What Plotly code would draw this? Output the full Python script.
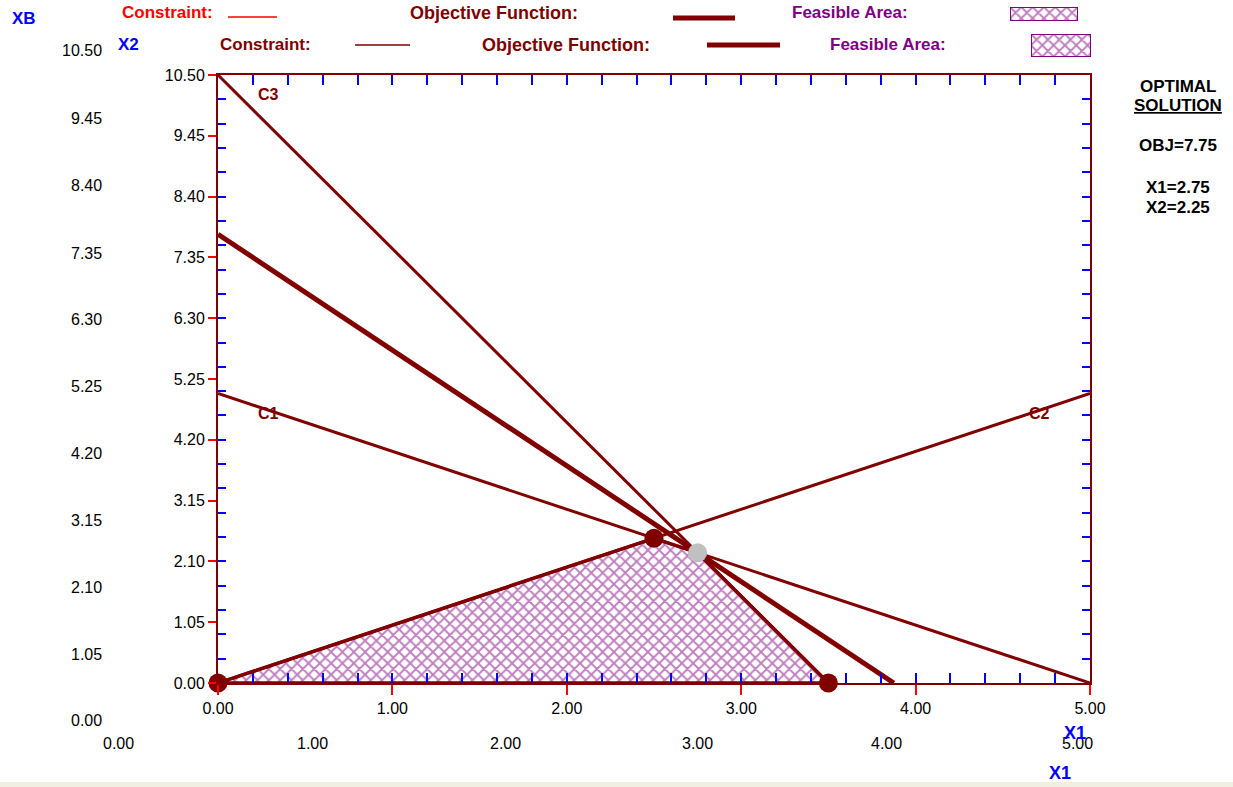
import plotly.graph_objects as go

W, H = 1233, 787
MAROON = "#800000"
PURPLE = "#800080"
BLUE = "#0000FF"

# ---- data ----
c1_x = [0.0, 5.0]; c1_y = [5.0, 0.0]          # C1: X1 + X2 <= 5
c2_x = [0.0, 5.0]; c2_y = [0.0, 5.0]          # C2: -X1 + X2 <= 0
c3_x = [0.0, 3.5]; c3_y = [10.5, 0.0]         # C3: 3X1 + X2 <= 10.5
obj_x = [0.0, 3.875]; obj_y = [7.75, 0.0]     # 2X1 + X2 = 7.75
feas_x = [0.0, 2.5, 2.75, 3.5, 0.0]
feas_y = [0.0, 2.5, 2.25, 0.0, 0.0]
corner_x = [0.0, 2.5, 3.5]
corner_y = [0.0, 2.5, 0.0]
opt_x = [2.75]; opt_y = [2.25]
x_ticks = [0.0, 1.0, 2.0, 3.0, 4.0, 5.0]
y_ticks = [0.00, 1.05, 2.10, 3.15, 4.20, 5.25, 6.30, 7.35, 8.40, 9.45, 10.50]
x_labels = [f"{v:.2f}" for v in x_ticks]
y_labels = [f"{v:.2f}" for v in y_ticks]
ghost_y_labels = ["10.50", "9.45", "8.40", "7.35", "6.30", "5.25", "4.20", "3.15", "2.10", "1.05", "0.00"]
ghost_x_labels = ["0.00", "1.00", "2.00", "3.00", "4.00", "5.00"]

def P(x):
    return x / W

def Q(y):
    return 1 - y / H

XD = [P(218), P(1090)]
YD = [Q(683), Q(75)]

fig = go.Figure()

hatch = dict(shape="x", fgcolor=PURPLE, bgcolor="white", size=8, solidity=0.42)

fig.add_trace(go.Scatter(x=feas_x, y=feas_y, mode="lines", fill="toself",
                         fillcolor="white", fillpattern=hatch,
                         line=dict(color=MAROON, width=3.5), hoverinfo="skip"))
for xs, ys in [(c1_x, c1_y), (c2_x, c2_y), (c3_x, c3_y)]:
    fig.add_trace(go.Scatter(x=xs, y=ys, mode="lines", line=dict(color=MAROON, width=3),
                             hoverinfo="skip"))
fig.add_trace(go.Scatter(x=obj_x, y=obj_y, mode="lines", line=dict(color=MAROON, width=5),
                         hoverinfo="skip"))
fig.add_trace(go.Scatter(x=corner_x, y=corner_y, mode="markers", cliponaxis=False,
                         marker=dict(color=MAROON, size=19), hoverinfo="skip"))
fig.add_trace(go.Scatter(x=opt_x, y=opt_y, mode="markers", cliponaxis=False,
                         marker=dict(color="#C0C0C0", size=19), hoverinfo="skip"))

# invisible traces for the minor-tick axes
fig.add_trace(go.Scatter(x=[0], y=[0], xaxis="x2", yaxis="y2", mode="markers",
                         marker=dict(opacity=0), hoverinfo="skip"))
fig.add_trace(go.Scatter(x=[0], y=[0], xaxis="x3", yaxis="y3", mode="markers",
                         marker=dict(opacity=0), hoverinfo="skip"))

# legend swatches (hatched boxes)
box_x = [0, 1, 1, 0, 0]
box_y = [0, 0, 1, 1, 0]
for xa, ya in [("x4", "y4"), ("x5", "y5")]:
    fig.add_trace(go.Scatter(x=box_x, y=box_y, xaxis=xa, yaxis=ya, mode="lines", fill="toself",
                             fillcolor="white", fillpattern=hatch, cliponaxis=False,
                             line=dict(color=PURPLE, width=2), hoverinfo="skip"))

tickfont = dict(family="Liberation Sans, Arial, sans-serif", size=16, color="black")
noauto = dict(automargin=False)
fig.update_layout(
    width=W, height=H, autosize=False,
    margin=dict(l=0, r=0, t=0, b=0, autoexpand=False),
    paper_bgcolor="white", plot_bgcolor="white",
    showlegend=False,
    xaxis=dict(domain=XD, range=[0, 5], tickmode="array", tickvals=x_ticks, ticktext=x_labels,
               ticks="outside", tickcolor="red", ticklen=10, tickwidth=2,
               showline=True, linecolor=MAROON, linewidth=2, mirror=True,
               showgrid=False, zeroline=False, tickfont=tickfont, anchor="y", **noauto),
    yaxis=dict(domain=YD, range=[0, 10.5], tickmode="array", tickvals=y_ticks, ticktext=y_labels,
               ticks="outside", tickcolor="red", ticklen=8, tickwidth=2,
               showline=True, linecolor=MAROON, linewidth=2, mirror=True,
               showgrid=False, zeroline=False, tickfont=tickfont, anchor="x", **noauto),
    xaxis2=dict(overlaying="x", anchor="y2", side="bottom", range=[0, 5], tickmode="linear",
                tick0=0, dtick=0.2, ticks="inside", tickcolor=BLUE, ticklen=10, tickwidth=2,
                showticklabels=False, showline=False, showgrid=False, zeroline=False, **noauto),
    yaxis2=dict(overlaying="y", anchor="x2", side="left", range=[0, 10.5], tickmode="linear",
                tick0=0, dtick=0.42, ticks="inside", tickcolor=BLUE, ticklen=8, tickwidth=2,
                showticklabels=False, showline=False, showgrid=False, zeroline=False, **noauto),
    xaxis3=dict(overlaying="x", anchor="y3", side="top", range=[0, 5], tickmode="linear",
                tick0=0, dtick=0.2, ticks="inside", tickcolor=BLUE, ticklen=10, tickwidth=2,
                showticklabels=False, showline=False, showgrid=False, zeroline=False, **noauto),
    yaxis3=dict(overlaying="y", anchor="x3", side="right", range=[0, 10.5], tickmode="linear",
                tick0=0, dtick=0.42, ticks="inside", tickcolor=BLUE, ticklen=8, tickwidth=2,
                showticklabels=False, showline=False, showgrid=False, zeroline=False, **noauto),
    xaxis4=dict(domain=[P(1031), P(1091)], range=[0, 1], visible=False, anchor="y4", **noauto),
    yaxis4=dict(domain=[Q(57), Q(34)], range=[0, 1], visible=False, anchor="x4", **noauto),
    xaxis5=dict(domain=[P(1010), P(1078)], range=[0, 1], visible=False, anchor="y5", **noauto),
    yaxis5=dict(domain=[Q(21), Q(7)], range=[0, 1], visible=False, anchor="x5", **noauto),
)

FONT = "Liberation Sans, Arial, sans-serif"
ann = []

def txt(x, y, t, size=16, color="black", bold=True, xanchor="center", ref="paper", underline=False):
    s = f"<b>{t}</b>" if bold else t
    if underline:
        s = f"<u>{s}</u>"
    xr, yr = ("paper", "paper") if ref == "paper" else ("x", "y")
    xx, yy = (P(x), Q(y)) if ref == "paper" else (x, y)
    ann.append(dict(x=xx, y=yy, xref=xr, yref=yr, text=s, showarrow=False,
                    xanchor=xanchor, yanchor="middle",
                    font=dict(family=FONT, size=size, color=color)))

# ghost (previous window image) text
txt(10, 18, "XB", 17, BLUE, xanchor="left")
txt(120, 13, "Constraint:", 17, "#FF0000", xanchor="left")
txt(408, 13, "Objective Function:", 18, MAROON, xanchor="left")
txt(790, 13, "Feasible Area:", 17, PURPLE, xanchor="left")
ghost_y_pos = [50, 118, 186, 253, 320, 386, 453, 520, 587, 654, 720]
for lab, yy in zip(ghost_y_labels, ghost_y_pos):
    txt(104, yy, lab, 16, "black", bold=False, xanchor="right")
ghost_x_pos = [118, 312, 505, 697, 886, 1077]
for lab, xx in zip(ghost_x_labels, ghost_x_pos):
    txt(xx, 743, lab, 16, "black", bold=False)
txt(1060, 773, "X1", 18, BLUE)

# main header/legend
txt(116, 45, "X2", 17, BLUE, xanchor="left")
txt(218, 45, "Constraint:", 17, MAROON, xanchor="left")
txt(480, 45, "Objective Function:", 18, MAROON, xanchor="left")
txt(828, 45, "Feasible Area:", 17, PURPLE, xanchor="left")
txt(1075, 733, "X1", 18, BLUE)

# optimal solution panel
txt(1178, 86, "OPTIMAL", 17, "black")
txt(1178, 105, "SOLUTION", 17, "black", underline=True)
txt(1178, 146, "OBJ=7.75", 17, "black")
txt(1178, 187, "X1=2.75", 17, "black")
txt(1178, 207, "X2=2.25", 17, "black")

# constraint labels in data coords
txt(0.29, 10.16, "C3", 16, MAROON, ref="data")
txt(0.29, 4.66, "C1", 16, MAROON, ref="data")
txt(4.71, 4.66, "C2", 16, MAROON, ref="data")

fig.update_layout(annotations=ann)

shapes = [
    dict(type="line", xref="paper", yref="paper", x0=P(355), x1=P(410), y0=Q(45), y1=Q(45),
         line=dict(color=MAROON, width=1.5)),
    dict(type="line", xref="paper", yref="paper", x0=P(707), x1=P(780), y0=Q(45), y1=Q(45),
         line=dict(color=MAROON, width=5)),
    dict(type="line", xref="paper", yref="paper", x0=P(228), x1=P(277), y0=Q(17), y1=Q(17),
         line=dict(color="#FF0000", width=1.5)),
    dict(type="line", xref="paper", yref="paper", x0=P(673), x1=P(735), y0=Q(18), y1=Q(18),
         line=dict(color=MAROON, width=5)),
    dict(type="rect", xref="paper", yref="paper", x0=0, x1=1, y0=0, y1=Q(782),
         fillcolor="#F1EFE2", line=dict(width=0), layer="below"),
]
fig.update_layout(shapes=shapes)

fig.write_html("out.html", config={"displayModeBar": False},
               post_script="document.body.style.margin='0';document.body.style.overflow='hidden';")
